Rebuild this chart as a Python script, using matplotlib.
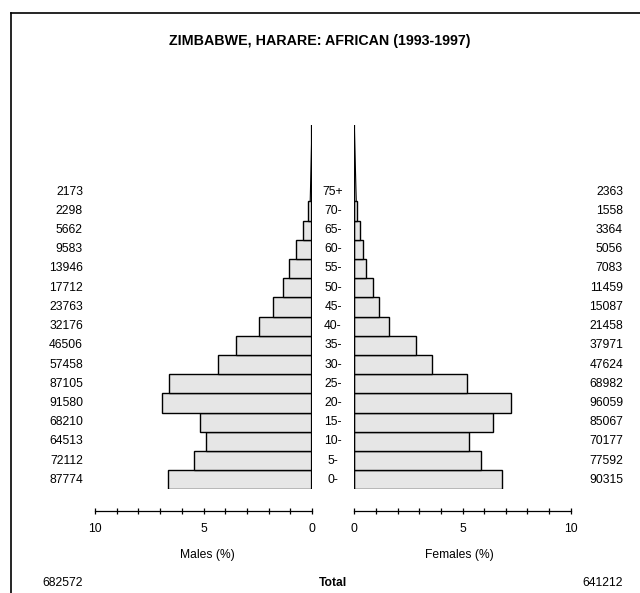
import numpy as np
import matplotlib
matplotlib.use('Agg')
import matplotlib.pyplot as plt
from matplotlib.lines import Line2D
from matplotlib.ticker import MultipleLocator

plt.rcParams['font.family'] = ['Liberation Sans', 'DejaVu Sans']

ages = ['0-', '5-', '10-', '15-', '20-', '25-', '30-', '35-', '40-', '45-',
        '50-', '55-', '60-', '65-', '70-', '75+']
males = [87774, 72112, 64513, 68210, 91580, 87105, 57458, 46506, 32176, 23763,
         17712, 13946, 9583, 5662, 2298, 2173]
females = [90315, 77592, 70177, 85067, 96059, 68982, 47624, 37971, 21458, 15087,
           11459, 7083, 5056, 3364, 1558, 2363]
total_males = 682572
total_females = 641212

grand = total_males + total_females
m_pct = np.array(males) / grand * 100
f_pct = np.array(females) / grand * 100

W, H = 640, 593
fig = plt.figure(figsize=(W / 100, H / 100), dpi=100)

def fx(px):
    return px / W

def fy(py):
    return 1 - py / H

row = 19.2
bot = 489.3
top = 125
ax_h = (bot - top) / H
ax_b = fy(bot)

axm = fig.add_axes([fx(95), ax_b, fx(312 - 95), ax_h])
axf = fig.add_axes([fx(354.3), ax_b, fx(570.7 - 354.3), ax_h])

n = len(ages)
y = np.arange(n - 1)
ytop = (bot - top) / row - 0.5
base = n - 1.5

for ax, vals in ((axm, m_pct), (axf, f_pct)):
    ax.barh(y, vals[:-1], height=1.0, color='#e6e6e6', edgecolor='black', linewidth=1.0)
    # open-ended last group drawn as a wedge of the same area
    w = 2 * vals[-1] / (ytop - base)
    ax.fill([0, w, 0], [base, base, ytop], facecolor='#e6e6e6', edgecolor='black',
            linewidth=0.8)
    ax.set_ylim(-0.5, ytop)
    ax.axvline(0, color='black', linewidth=1.6)
    for s in ('top', 'left', 'right'):
        ax.spines[s].set_visible(False)
    ax.spines['bottom'].set_position(('outward', 15.6))
    ax.spines['bottom'].set_linewidth(0.9)
    ax.set_yticks([])
    ax.xaxis.set_major_locator(MultipleLocator(5))
    ax.xaxis.set_minor_locator(MultipleLocator(1))
    ax.tick_params(axis='x', which='both', direction='inout', length=5, width=0.9,
                   labelsize=8.7, pad=6)
    ax.set_facecolor('none')

axm.set_xlim(10, 0)
axf.set_xlim(0, 10)

fs = 8.7
for i, a in enumerate(ages):
    yy = bot - row / 2 - i * row
    fig.text(fx(333), fy(yy), a, ha='center', va='center', fontsize=fs)
    fig.text(fx(83), fy(yy), str(males[i]), ha='right', va='center', fontsize=fs)
    fig.text(fx(623), fy(yy), str(females[i]), ha='right', va='center', fontsize=fs)

fig.text(fx(207), fy(555), 'Males (%)', ha='center', va='center', fontsize=fs)
fig.text(fx(459), fy(555), 'Females (%)', ha='center', va='center', fontsize=fs)
fig.text(fx(83), fy(583), str(total_males), ha='right', va='center', fontsize=fs)
fig.text(fx(333), fy(583), 'Total', ha='center', va='center', fontsize=fs, fontweight='bold')
fig.text(fx(623), fy(583), str(total_females), ha='right', va='center', fontsize=fs)

fig.text(0.5, fy(41), 'ZIMBABWE, HARARE: AFRICAN (1993-1997)', ha='center', va='center',
         fontsize=10.3, fontweight='bold')

# frame
fig.add_artist(Line2D([fx(11), 1.0], [fy(13), fy(13)], color='black', linewidth=1.2))
fig.add_artist(Line2D([fx(11), fx(11)], [fy(13), 0.0], color='black', linewidth=1.2))

fig.savefig('out.png', dpi=100)
